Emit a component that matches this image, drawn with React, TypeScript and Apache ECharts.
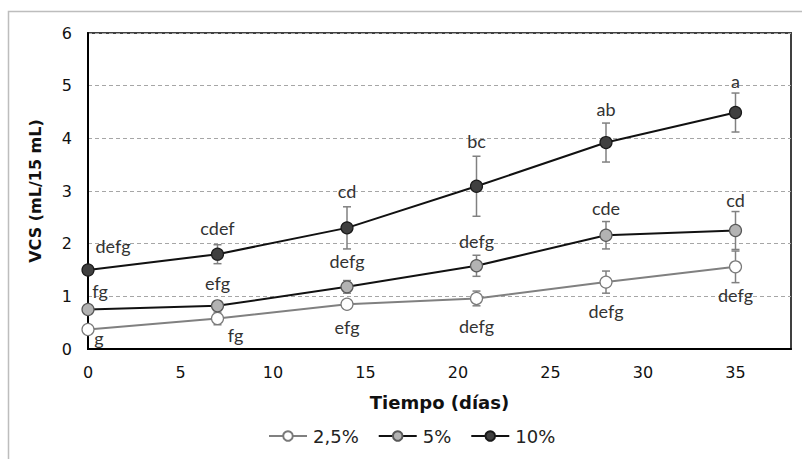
import React, { useEffect, useRef } from "react";
import * as echarts from "echarts";

const days = [0, 7, 14, 21, 28, 35];
const seriesNames = ["2,5%", "5%", "10%"];
const vcs25 = [0.37, 0.58, 0.85, 0.96, 1.27, 1.56];
const vcs5 = [0.75, 0.82, 1.18, 1.58, 2.16, 2.25];
const vcs10 = [1.5, 1.8, 2.3, 3.09, 3.92, 4.49];
const err25 = [0, 0.12, 0.08, 0.14, 0.21, 0.3];
const err5 = [0, 0.05, 0.12, 0.2, 0.26, 0.36];
const err10 = [0, 0.18, 0.4, 0.57, 0.37, 0.37];
const letters25 = ["g", "fg", "efg", "defg", "defg", "defg"];
const letters5 = ["fg", "efg", "defg", "defg", "cde", "cd"];
const letters10 = ["defg", "cdef", "cd", "bc", "ab", "a"];

// label pixel offsets (style)
const off25 = [[11, 8], [18, 17], [0, 23], [0, 28], [0, 29], [0, 28]];
const off5 = [[12, -19], [0, -23], [0, -26], [0, -25], [0, -27], [0, -31]];
const off10 = [[25, -24], [0, -26], [0, -37], [0, -45], [0, -34], [0, -32]];

const labelFont = "Lato, 'Liberation Sans', sans-serif";
const axisFont = "'DejaVu Sans', Verdana, sans-serif";

function lineSeries(name: string, vals: number[], letters: string[], offs: number[][], lineColor: string, fill: string, border: string) {
  return {
    name,
    type: "line",
    z: 3,
    symbol: "circle",
    symbolSize: 12,
    lineStyle: { color: lineColor, width: 2 },
    itemStyle: { color: fill, borderColor: border, borderWidth: 1.2 },
    data: days.map((d, i) => ({
      value: [d, vals[i]],
      label: { offset: offs[i] },
    })),
    label: {
      show: true,
      position: "inside",
      fontFamily: labelFont,
      fontSize: 18,
      color: "#333",
      formatter: (p: any) => letters[p.dataIndex],
    },
    emphasis: { disabled: true },
  };
}

function errSeries(name: string, vals: number[], errs: number[]) {
  return {
    name: name + "-err",
    type: "custom",
    z: 2,
    silent: true,
    data: days.map((d, i) => [d, vals[i] - errs[i], vals[i] + errs[i]]),
    encode: { x: 0, y: [1, 2] },
    renderItem: (params: any, api: any) => {
      const x = api.value(0);
      const lo = api.coord([x, api.value(1)]);
      const hi = api.coord([x, api.value(2)]);
      if (Math.abs(lo[1] - hi[1]) < 0.5) return { type: "group", children: [] };
      const style = { stroke: "#808080", lineWidth: 1.5 };
      const w = 4;
      return {
        type: "group",
        children: [
          { type: "line", shape: { x1: lo[0], y1: lo[1], x2: hi[0], y2: hi[1] }, style },
          { type: "line", shape: { x1: lo[0] - w, y1: lo[1], x2: lo[0] + w, y2: lo[1] }, style },
          { type: "line", shape: { x1: hi[0] - w, y1: hi[1], x2: hi[0] + w, y2: hi[1] }, style },
        ],
      };
    },
  };
}

export default function App() {
  const ref = useRef<HTMLDivElement>(null);
  useEffect(() => {
    if (!ref.current) return;
    const chart = echarts.init(ref.current, undefined, { renderer: "svg" });
    chart.setOption({
      animation: false,
      backgroundColor: "#fff",
      graphic: [
        {
          type: "rect",
          silent: true,
          z: -10,
          shape: { x: 8.5, y: 11.5, width: 900, height: 600 },
          style: { fill: "none", stroke: "#bdbdbd", lineWidth: 1.5 },
        },
      ],
      grid: {
        left: 88,
        top: 33,
        width: 703,
        height: 316,
        show: true,
        borderColor: "#404040",
        borderWidth: 2,
        backgroundColor: "transparent",
      },
      legend: {
        data: seriesNames,
        top: 427,
        left: 268,
        padding: 0,
        itemWidth: 38,
        itemHeight: 12,
        itemGap: 19,
        textStyle: { fontFamily: axisFont, fontSize: 18, color: "#222", padding: [0, 0, 0, 1] },
      },
      xAxis: {
        type: "value",
        min: 0,
        max: 38,
        interval: 5,
        name: "Tiempo (días)",
        nameLocation: "middle",
        nameGap: 44,
        nameTextStyle: { fontFamily: axisFont, fontSize: 18, fontWeight: "bold", color: "#111" },
        axisLine: { show: true, lineStyle: { color: "#000", width: 2 } },
        axisTick: { show: false },
        axisLabel: { fontFamily: axisFont, fontSize: 16, color: "#111", margin: 15, showMaxLabel: false },
        splitLine: { show: false },
      },
      yAxis: {
        type: "value",
        min: 0,
        max: 6,
        interval: 1,
        name: "VCS (mL/15 mL)",
        nameLocation: "middle",
        nameGap: 45,
        nameTextStyle: { fontFamily: axisFont, fontSize: 16, fontWeight: "bold", color: "#111" },
        axisLine: { show: true, lineStyle: { color: "#000", width: 2 } },
        axisTick: { show: false },
        axisLabel: { fontFamily: axisFont, fontSize: 16, color: "#111", margin: 16 },
        splitLine: { show: true, lineStyle: { color: "#a6a6a6", type: [4, 3], width: 1 } },
      },
      series: [
        errSeries(seriesNames[0], vcs25, err25),
        errSeries(seriesNames[1], vcs5, err5),
        errSeries(seriesNames[2], vcs10, err10),
        lineSeries(seriesNames[0], vcs25, letters25, off25, "#808080", "#ffffff", "#7a7a7a"),
        lineSeries(seriesNames[1], vcs5, letters5, off5, "#111111", "#b3b3b3", "#595959"),
        lineSeries(seriesNames[2], vcs10, letters10, off10, "#111111", "#404040", "#1a1a1a"),
      ],
    });
    return () => chart.dispose();
  }, []);
  return <div ref={ref} style={{ position: "fixed", left: 0, top: 0, width: 802, height: 459 }} />;
}
